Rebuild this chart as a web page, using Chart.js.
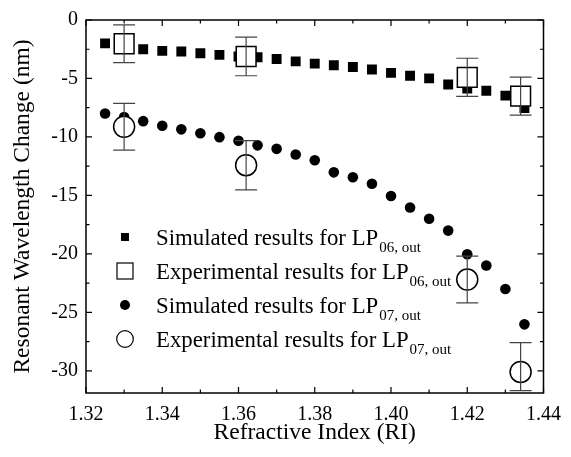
<!DOCTYPE html>
<html>
<head>
<meta charset="utf-8">
<script src="https://cdn.jsdelivr.net/npm/chart.js@4.4.0/dist/chart.umd.min.js"></script>
<style>
    html, body { margin: 0; padding: 0; background: #fff; }
    #wrap { width: 571px; height: 457px; }
</style>
</head>
<body>
<div id="wrap"><canvas id="riChart" width="571" height="457"></canvas></div>
<script>
// simulated curves (RI step 0.005)
const simRI = [1.325, 1.33, 1.335, 1.34, 1.345, 1.35, 1.355, 1.36, 1.365, 1.37, 1.375, 1.38,
    1.385, 1.39, 1.395, 1.40, 1.405, 1.41, 1.415, 1.42, 1.425, 1.43, 1.435];
const simLP06 = [-2.0, -2.3, -2.5, -2.64, -2.7, -2.84, -2.98, -3.12, -3.18, -3.34, -3.54, -3.73,
    -3.87, -4.02, -4.23, -4.52, -4.77, -4.99, -5.52, -5.86, -6.05, -6.47, -7.54];
const simLP07 = [-8.0, -8.29, -8.65, -9.04, -9.35, -9.68, -10.02, -10.33, -10.72, -11.02, -11.5, -12.0,
    -13.03, -13.45, -14.0, -15.05, -16.03, -17.0, -18.01, -20.03, -21.0, -23.0, -26.03];

// experimental points with error bars
const expRI = [1.33, 1.362, 1.42, 1.434];
const expLP06 = [-2.03, -3.12, -4.9, -6.51];
const expLP06ErrUp = [1.62, 1.65, 1.63, 1.62];
const expLP06ErrDown = [1.62, 1.65, 1.63, 1.62];
const expLP07 = [-9.13, -12.42, -22.2, -30.1];
const expLP07ErrUp = [2.0, 2.1, 2.0, 2.5];
const expLP07ErrDown = [2.0, 2.1, 2.0, 1.6];

const xTicks = [1.32, 1.34, 1.36, 1.38, 1.40, 1.42, 1.44];
const yTicks = [0, -5, -10, -15, -20, -25, -30];

const legendLabels = [
    ['Simulated results for LP', '06, out'],
    ['Experimental results for LP', '06, out'],
    ['Simulated results for LP', '07, out'],
    ['Experimental results for LP', '07, out']
];

const serif = "'Liberation Serif', 'Times New Roman', serif";

function toPoints(xs, ys) {
    return xs.map((x, i) => ({ x: x, y: ys[i] }));
}

// frame with inward ticks on all four sides
const framePlugin = {
    id: 'frame',
    afterDatasetsDraw(chart) {
        const ctx = chart.ctx;
        const a = chart.chartArea;
        const xs = chart.scales.x;
        const ys = chart.scales.y;
        ctx.save();
        ctx.strokeStyle = '#000';
        ctx.lineWidth = 1.5;
        ctx.strokeRect(a.left, a.top, a.right - a.left, a.bottom - a.top);
        ctx.lineWidth = 1.2;
        ctx.beginPath();
        for (let v = 1.32; v <= 1.4401; v += 0.01) {
            const px = xs.getPixelForValue(v);
            const major = Math.round(v * 100) % 2 === 0;
            const len = major ? 6 : 3.5;
            ctx.moveTo(px, a.bottom); ctx.lineTo(px, a.bottom - len);
            ctx.moveTo(px, a.top); ctx.lineTo(px, a.top + len);
        }
        for (let v = 0; v >= -31.9; v -= 2.5) {
            const py = ys.getPixelForValue(v);
            const major = Math.round(v * 10) % 50 === 0;
            const len = major ? 6 : 3.5;
            ctx.moveTo(a.left, py); ctx.lineTo(a.left + len, py);
            ctx.moveTo(a.right, py); ctx.lineTo(a.right - len, py);
        }
        ctx.stroke();
        ctx.restore();
    }
};

// vertical error bars for the experimental sets
const errorBarPlugin = {
    id: 'errorBars',
    afterDatasetsDraw(chart) {
        const ctx = chart.ctx;
        const a = chart.chartArea;
        const xs = chart.scales.x;
        const ys = chart.scales.y;
        ctx.save();
        ctx.beginPath();
        ctx.rect(a.left, a.top, a.right - a.left, a.bottom - a.top);
        ctx.clip();
        ctx.strokeStyle = '#444';
        ctx.lineWidth = 1.2;
        chart.data.datasets.forEach(ds => {
            if (!ds.errUp) return;
            ds.data.forEach((p, i) => {
                const px = xs.getPixelForValue(p.x);
                const top = ys.getPixelForValue(p.y + ds.errUp[i]);
                const bot = ys.getPixelForValue(p.y - ds.errDown[i]);
                ctx.beginPath();
                ctx.moveTo(px, top); ctx.lineTo(px, bot);
                ctx.moveTo(px - 11, top); ctx.lineTo(px + 11, top);
                ctx.moveTo(px - 11, bot); ctx.lineTo(px + 11, bot);
                ctx.stroke();
            });
        });
        ctx.restore();
    }
};

// legend inside the plot, with subscripts
const legendPlugin = {
    id: 'subLegend',
    afterDraw(chart) {
        const ctx = chart.ctx;
        const markerX = 125;
        const textX = 156;
        const rowY = [237, 271, 305, 339];
        ctx.save();
        ctx.strokeStyle = '#000';
        ctx.fillStyle = '#000';
        ctx.lineWidth = 1.2;
        // markers
        ctx.fillRect(markerX - 4, rowY[0] - 4, 8, 8);
        ctx.fillStyle = '#fff';
        ctx.fillRect(markerX - 8, rowY[1] - 8, 16, 16);
        ctx.strokeRect(markerX - 8, rowY[1] - 8, 16, 16);
        ctx.fillStyle = '#000';
        ctx.beginPath();
        ctx.arc(markerX, rowY[2], 5, 0, Math.PI * 2);
        ctx.fill();
        ctx.beginPath();
        ctx.arc(markerX, rowY[3], 8.3, 0, Math.PI * 2);
        ctx.stroke();
        // labels
        ctx.textBaseline = 'alphabetic';
        legendLabels.forEach((lab, i) => {
            ctx.font = '22.8px ' + serif;
            ctx.fillText(lab[0], textX, rowY[i] + 8);
            const w = ctx.measureText(lab[0]).width;
            ctx.font = '15px ' + serif;
            ctx.fillText(lab[1], textX + w + 1, rowY[i] + 15);
        });
        ctx.restore();
    }
};

new Chart(document.getElementById('riChart').getContext('2d'), {
    type: 'scatter',
    data: {
        datasets: [
            {
                label: 'Simulated results for LP06, out',
                data: toPoints(simRI, simLP06),
                pointStyle: 'rect',
                pointRadius: 7,
                backgroundColor: '#000',
                borderColor: '#000',
                borderWidth: 0,
                order: 2
            },
            {
                label: 'Experimental results for LP06, out',
                data: toPoints(expRI, expLP06),
                errUp: expLP06ErrUp,
                errDown: expLP06ErrDown,
                pointStyle: 'rect',
                pointRadius: 14,
                backgroundColor: '#fff',
                borderColor: '#000',
                borderWidth: 1.5,
                order: 1
            },
            {
                label: 'Simulated results for LP07, out',
                data: toPoints(simRI, simLP07),
                pointStyle: 'circle',
                pointRadius: 5.3,
                backgroundColor: '#000',
                borderColor: '#000',
                borderWidth: 0,
                order: 2
            },
            {
                label: 'Experimental results for LP07, out',
                data: toPoints(expRI, expLP07),
                errUp: expLP07ErrUp,
                errDown: expLP07ErrDown,
                pointStyle: 'circle',
                pointRadius: 10.5,
                backgroundColor: '#fff',
                borderColor: '#000',
                borderWidth: 1.5,
                order: 1
            }
        ]
    },
    options: {
        responsive: false,
        animation: false,
        devicePixelRatio: 1,
        layout: { padding: { top: 13, right: 19, left: 0, bottom: 0 } },
        plugins: {
            legend: { display: false },
            tooltip: { enabled: false }
        },
        scales: {
            x: {
                type: 'linear',
                min: 1.32,
                max: 1.44,
                grid: { display: false, drawTicks: false },
                border: { display: false },
                afterBuildTicks: s => { s.ticks = xTicks.map(v => ({ value: v })); },
                afterFit: s => { s.height = 64; },
                ticks: {
                    color: '#000',
                    padding: 10,
                    maxRotation: 0,
                    font: { family: serif, size: 20 },
                    callback: v => v.toFixed(2)
                },
                title: {
                    display: true,
                    text: 'Refractive Index (RI)',
                    color: '#000',
                    font: { family: serif, size: 23.5 },
                    padding: { top: 0, bottom: 10 }
                }
            },
            y: {
                type: 'linear',
                min: -31.9,
                max: 0,
                grid: { display: false, drawTicks: false },
                border: { display: false },
                afterBuildTicks: s => { s.ticks = yTicks.map(v => ({ value: v })); },
                afterFit: s => { s.width = 86; },
                ticks: {
                    color: '#000',
                    padding: 8,
                    font: { family: serif, size: 20 },
                    callback: v => String(v)
                },
                title: {
                    display: true,
                    text: 'Resonant Wavelength Change (nm)',
                    color: '#000',
                    font: { family: serif, size: 23.5 },
                    padding: { top: 9, bottom: 0 }
                }
            }
        }
    },
    plugins: [errorBarPlugin, framePlugin, legendPlugin]
});
</script>
</body>
</html>
